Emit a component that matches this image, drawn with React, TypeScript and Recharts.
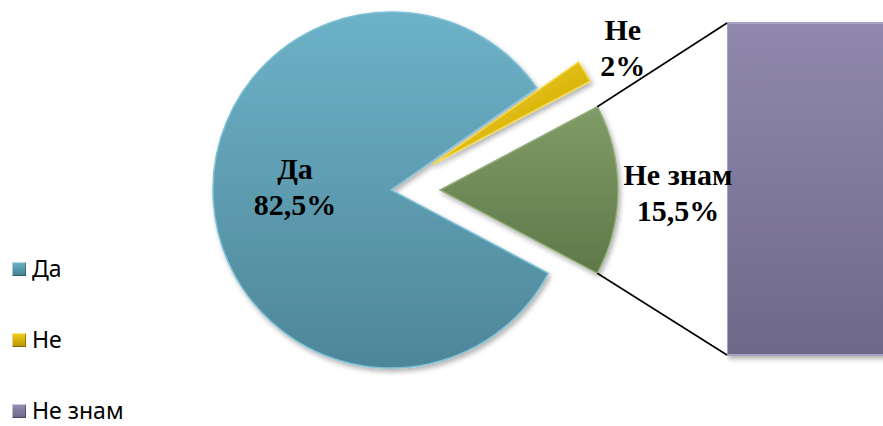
import React from 'react';
import { PieChart, Pie, Cell, BarChart, Bar, XAxis, YAxis } from 'recharts';

// ---- data ----
const categories = ['Да', 'Не', 'Не знам'];
const values = [82.5, 2, 15.5];
const valueLabels = ['82,5%', '2%', '15,5%'];
const barCategories = ['Не знам'];
const barValues = [15.5];

// ---- layout / style ----
const W = 883;
const H = 426;
const CX = 391;
const CY = 190;
const R = 178;
const EXPLODE = [0, 49, 49];
const LABEL_OFFSET: [number, number][] = [[-96, -3], [190, -116], [238, 3]];
const BAR_LEFT = 727;
const BAR_TOP = 23;
const BAR_BOTTOM = 355;
const SLICE_FILLS = ['url(#gDa)', 'url(#gNe)', 'url(#gNz)'];
const SLICE_STROKES = ['#7CC0D6', '#F5DA4A', '#93AE7A'];
const LEGEND_FILLS = ['linear-gradient(#6DB3C9,#467F92)', 'linear-gradient(#F2CF1C,#B89600)', 'linear-gradient(#9690B5,#6C6788)'];

const total = values.reduce((a, b) => a + b, 0);
// "other" slice (last) centred on the horizontal axis, slices run clockwise
const START = -(values[values.length - 1] / total) * 360 / 2;
const slices = values.map((v, i) => {
  const before = values.slice(0, i).reduce((a, b) => a + b, 0);
  const a0 = START - (before / total) * 360;
  const a1 = START - ((before + v) / total) * 360;
  const mid = (a0 + a1) / 2;
  const rad = (mid * Math.PI) / 180;
  return {
    name: categories[i],
    value: v,
    a0,
    a1,
    cx: CX + EXPLODE[i] * Math.cos(rad),
    cy: CY - EXPLODE[i] * Math.sin(rad),
  };
});

const pt = (cx: number, cy: number, r: number, deg: number) => ({
  x: cx + r * Math.cos((deg * Math.PI) / 180),
  y: cy - r * Math.sin((deg * Math.PI) / 180),
});

const makeLabel = (i: number) => (props: any) => {
  const s = slices[i];
  const cx = props.cx ?? s.cx;
  const cy = props.cy ?? s.cy;
  const lx = cx + LABEL_OFFSET[i][0];
  const ly = cy + LABEL_OFFSET[i][1];
  const last = i === slices.length - 1;
  let lines = null;
  if (last) {
    const p0 = pt(cx, cy, R, s.a0);
    const p1 = pt(cx, cy, R, s.a1);
    const top = p0.y < p1.y ? p0 : p1;
    const bot = p0.y < p1.y ? p1 : p0;
    lines = (
      <g>
        <line x1={top.x} y1={top.y} x2={BAR_LEFT} y2={BAR_TOP} stroke="#000" strokeWidth={1.6} />
        <line x1={bot.x} y1={bot.y} x2={BAR_LEFT} y2={BAR_BOTTOM} stroke="#000" strokeWidth={1.6} />
      </g>
    );
  }
  return (
    <g key={`lbl-${i}`}>
      {lines}
      <text
        x={lx}
        y={ly}
        textAnchor="middle"
        fontFamily="'Liberation Serif', 'Times New Roman', serif"
        fontWeight="bold"
        fontSize={30}
        fill="#000"
      >
        <tspan x={lx} dy={-8}>{categories[i]}</tspan>
        <tspan x={lx} dy={36}>{valueLabels[i]}</tspan>
      </text>
    </g>
  );
};

const barData = barCategories.map((c, i) => ({ name: c, value: barValues[i] }));

export default function App() {
  return (
    <div style={{ position: 'absolute', left: 0, top: 0, width: W, height: H, overflow: 'hidden', background: '#fff' }}>
      <svg width={0} height={0} style={{ position: 'absolute' }}>
        <defs>
          <linearGradient id="gDa" x1="0" y1="0" x2="0" y2="1">
            <stop offset="0%" stopColor="#6DB2C8" />
            <stop offset="100%" stopColor="#4E8699" />
          </linearGradient>
          <linearGradient id="gNe" x1="0" y1="0" x2="1" y2="1">
            <stop offset="0%" stopColor="#F4D224" />
            <stop offset="100%" stopColor="#C9A300" />
          </linearGradient>
          <linearGradient id="gNz" x1="0" y1="0" x2="0" y2="1">
            <stop offset="0%" stopColor="#809C67" />
            <stop offset="100%" stopColor="#5F7849" />
          </linearGradient>
          <linearGradient id="gBar" x1="0" y1="0" x2="0" y2="1">
            <stop offset="0%" stopColor="#9089AD" />
            <stop offset="100%" stopColor="#6E6888" />
          </linearGradient>
          <filter id="shadow" x="-20%" y="-20%" width="140%" height="140%">
            <feDropShadow dx="2" dy="3" stdDeviation="2.5" floodColor="#000" floodOpacity="0.3" />
          </filter>
        </defs>
      </svg>

      <div style={{ position: 'absolute', left: BAR_LEFT, top: 0 }}>
        <BarChart
          width={220}
          height={H}
          data={barData}
          margin={{ top: BAR_TOP, bottom: H - BAR_BOTTOM, left: 0, right: 0 }}
          barCategoryGap={0}
        >
          <XAxis dataKey="name" hide />
          <YAxis hide domain={[0, barValues.reduce((a, b) => a + b, 0)]} />
          <Bar
            dataKey="value"
            fill="url(#gBar)"
            stroke="#A7A1C4"
            strokeWidth={2}
            isAnimationActive={false}
            style={{ filter: 'url(#shadow)' }}
          />
        </BarChart>
      </div>

      <div style={{ position: 'absolute', left: 0, top: 0 }}>
        <PieChart width={W} height={H} margin={{ top: 0, right: 0, bottom: 0, left: 0 }}>
          {slices.map((s, i) => (
            <Pie
              key={s.name}
              data={[{ name: s.name, value: s.value }]}
              dataKey="value"
              nameKey="name"
              cx={s.cx}
              cy={s.cy}
              outerRadius={R}
              innerRadius={0}
              startAngle={s.a0}
              endAngle={s.a1}
              paddingAngle={0}
              isAnimationActive={false}
              labelLine={false}
              label={makeLabel(i)}
            >
              <Cell fill={SLICE_FILLS[i]} stroke={SLICE_STROKES[i]} strokeWidth={1.5} style={{ filter: 'url(#shadow)' }} />
            </Pie>
          ))}
        </PieChart>
      </div>

      <div style={{ position: 'absolute', left: 12, top: 233, fontFamily: "'Noto Sans', sans-serif", fontSize: 23, color: '#000' }}>
        {categories.map((c, i) => (
          <div key={c} style={{ height: 71, display: 'flex', alignItems: 'center' }}>
            <span
              style={{
                display: 'inline-block',
                width: 14,
                height: 14,
                background: LEGEND_FILLS[i],
                boxShadow: 'inset 1px 1px 0 rgba(255,255,255,0.5), inset -1px -1px 0 rgba(0,0,0,0.3)',
                marginRight: 6,
              }}
            />
            <span style={{ lineHeight: 1 }}>{c}</span>
          </div>
        ))}
      </div>
    </div>
  );
}
